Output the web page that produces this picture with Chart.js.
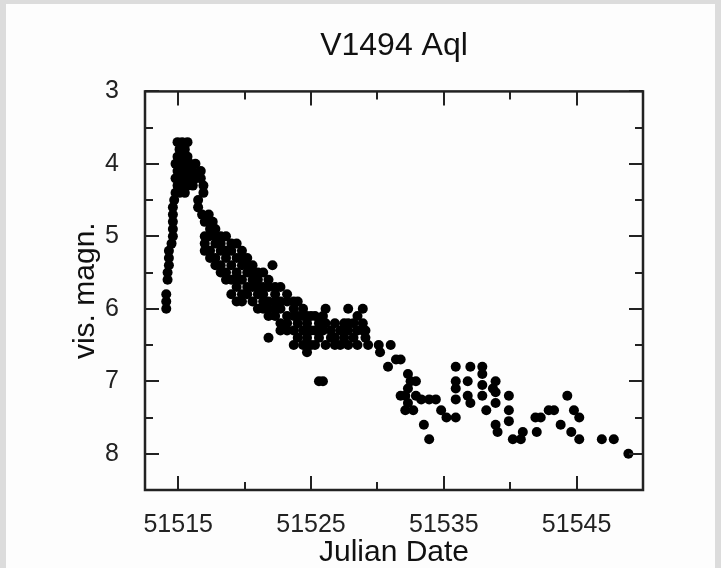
<!DOCTYPE html>
<html>
<head>
<meta charset="utf-8">
<script src="https://cdn.jsdelivr.net/npm/chart.js@4.4.0/dist/chart.umd.min.js"></script>
<style>
  html, body { margin: 0; padding: 0; background: #dcdcdc; }
  #wrap { width: 721px; height: 568px; }
</style>
</head>
<body>
<div id="wrap"><canvas id="lc" width="721" height="568"></canvas></div>
<script>
// V1494 Aql - visual estimates
const jd = [
  51514.1, 51514.1, 51514.1,
  51514.2, 51514.2,
  51514.3, 51514.3, 51514.3,
  51514.5,
  51514.6, 51514.6, 51514.6, 51514.6, 51514.6,
  51514.7,
  51514.8, 51514.8, 51514.8,
  51514.95, 51514.95, 51514.95, 51514.95,
  51515.1, 51515.1, 51515.1, 51515.1,
  51515.3, 51515.3, 51515.3, 51515.3,
  51515.5, 51515.5, 51515.5, 51515.5,
  51515.7, 51515.7, 51515.7, 51515.7,
  51515.9, 51515.9,
  51516.1, 51516.1,
  51516.3, 51516.3,
  51516.5, 51516.5,
  51516.7, 51516.7,
  51516.8,
  51516.9, 51516.9,
  51517.0, 51517.0, 51517.0, 51517.0,
  51517.3, 51517.3,
  51517.4, 51517.4, 51517.4,
  51517.6,
  51517.8, 51517.8, 51517.8, 51517.8, 51517.8,
  51518.2, 51518.2, 51518.2, 51518.2, 51518.2,
  51518.6, 51518.6, 51518.6, 51518.6, 51518.6,
  51519.0, 51519.0, 51519.0, 51519.0, 51519.0,
  51519.4, 51519.4, 51519.4, 51519.4, 51519.4, 51519.4,
  51519.8, 51519.8, 51519.8, 51519.8, 51519.8, 51519.8,
  51520.2, 51520.2, 51520.2, 51520.2, 51520.2,
  51520.6, 51520.6, 51520.6, 51520.6, 51520.6,
  51521.0, 51521.0, 51521.0, 51521.0, 51521.0,
  51521.4, 51521.4, 51521.4, 51521.4, 51521.4,
  51521.8, 51521.8, 51521.8, 51521.8, 51521.8, 51521.8,
  51522.1,
  51522.3, 51522.3, 51522.3, 51522.3, 51522.3,
  51522.7, 51522.7, 51522.7, 51522.7, 51522.7,
  51523.2, 51523.2, 51523.2, 51523.2, 51523.2,
  51523.7, 51523.7, 51523.7, 51523.7, 51523.7,
  51524.0, 51524.0, 51524.0, 51524.0,
  51524.4, 51524.4, 51524.4, 51524.4,
  51524.7, 51524.7, 51524.7, 51524.7,
  51525.0, 51525.0, 51525.0,
  51525.3, 51525.3, 51525.3,
  51525.6, 51525.6, 51525.6,
  51525.9, 51525.9, 51525.9,
  51526.1, 51526.1, 51526.1,
  51526.5, 51526.5,
  51526.8, 51526.8, 51526.8,
  51527.2, 51527.2,
  51527.5, 51527.5,
  51527.8, 51527.8, 51527.8, 51527.8,
  51528.2, 51528.2,
  51528.5, 51528.5, 51528.5,
  51528.9, 51528.9, 51528.9,
  51529.1, 51529.1,
  51529.3,
  51530.1,
  51530.2,
  51530.8,
  51531.0,
  51531.4,
  51531.75, 51531.75,
  51532.1, 51532.1,
  51532.3, 51532.3, 51532.3,
  51532.5,
  51532.7,
  51532.9, 51532.9,
  51533.3,
  51533.5,
  51533.9, 51533.9,
  51534.4,
  51534.8,
  51535.2,
  51535.9, 51535.9, 51535.9, 51535.9, 51535.9,
  51536.8, 51536.8,
  51537.0, 51537.0,
  51537.9, 51537.9, 51537.9, 51537.9,
  51538.2,
  51538.7,
  51538.9, 51538.9, 51538.9, 51538.9,
  51539.05,
  51539.9, 51539.9, 51539.9,
  51540.2,
  51540.8,
  51540.95,
  51541.9,
  51542.0,
  51542.3,
  51542.9,
  51543.3,
  51543.8,
  51544.3,
  51544.6,
  51544.8,
  51545.2, 51545.2,
  51546.9,
  51547.8,
  51548.9
];
const mag = [
  5.8, 5.9, 6.0,
  5.5, 5.6,
  5.2, 5.3, 5.4,
  5.1,
  4.6, 4.7, 4.8, 4.9, 5.0,
  4.5,
  4.0, 4.2, 4.4,
  3.7, 3.9, 4.1, 4.3,
  3.8, 4.0, 4.2, 4.4,
  3.7, 3.9, 4.1, 4.3,
  3.8, 4.0, 4.2, 4.4,
  3.7, 3.9, 4.1, 4.3,
  4.0, 4.2,
  4.1, 4.3,
  4.0, 4.2,
  4.5, 4.6,
  4.1, 4.2,
  4.7,
  4.3, 4.4,
  4.8, 5.0, 5.1, 5.2,
  4.7, 5.0,
  4.9, 5.2, 5.3,
  4.8,
  4.9, 5.0, 5.1, 5.3, 5.4,
  5.0, 5.1, 5.2, 5.4, 5.5,
  5.0, 5.2, 5.3, 5.5, 5.6,
  5.1, 5.2, 5.4, 5.6, 5.8,
  5.1, 5.3, 5.5, 5.6, 5.7, 5.9,
  5.2, 5.3, 5.4, 5.6, 5.8, 5.9,
  5.3, 5.4, 5.5, 5.7, 5.8,
  5.4, 5.5, 5.6, 5.7, 5.9,
  5.5, 5.6, 5.7, 5.8, 6.0,
  5.5, 5.7, 5.8, 5.9, 6.0,
  5.6, 5.7, 5.9, 6.0, 6.1, 6.4,
  5.4,
  5.7, 5.8, 5.9, 6.0, 6.1,
  5.7, 5.9, 6.0, 6.2, 6.3,
  5.8, 5.9, 6.1, 6.2, 6.3,
  5.9, 6.0, 6.1, 6.3, 6.5,
  5.9, 6.1, 6.2, 6.4,
  6.0, 6.1, 6.3, 6.5,
  6.1, 6.2, 6.4, 6.6,
  6.1, 6.3, 6.5,
  6.1, 6.3, 6.5,
  6.2, 6.4, 7.0,
  6.1, 6.3, 7.0,
  6.0, 6.2, 6.5,
  6.3, 6.4,
  6.2, 6.4, 6.5,
  6.3, 6.5,
  6.2, 6.4,
  6.0, 6.2, 6.3, 6.5,
  6.2, 6.4,
  6.1, 6.3, 6.5,
  6.0, 6.2, 6.3,
  6.3, 6.4,
  6.5,
  6.5,
  6.6,
  6.8,
  6.5,
  6.7,
  6.7, 7.2,
  7.2, 7.4,
  6.9, 7.1, 7.3,
  7.0,
  7.4,
  7.0, 7.2,
  7.25,
  7.6,
  7.25, 7.8,
  7.25,
  7.4,
  7.5,
  6.8, 7.0, 7.1, 7.25, 7.5,
  7.0, 7.2,
  6.8, 7.3,
  6.8, 6.9, 7.05, 7.2,
  7.4,
  7.1,
  7.0, 7.15, 7.3, 7.6,
  7.7,
  7.2, 7.4, 7.55,
  7.8,
  7.8,
  7.7,
  7.5,
  7.7,
  7.5,
  7.4,
  7.4,
  7.6,
  7.2,
  7.7,
  7.4,
  7.5, 7.8,
  7.8,
  7.8,
  8.0
];

const xMajor = [51515, 51525, 51535, 51545];
const xMinor = [51520, 51530, 51540];
const yMajor = [3, 4, 5, 6, 7, 8];
const yMinor = [3.5, 4.5, 5.5, 6.5, 7.5];

const points = jd.map((d, i) => ({ x: d, y: mag[i] }));
const FONT = "'Liberation Sans', Arial, Helvetica, sans-serif";

// grey page, white panel, boxed frame with inward ticks on all four sides
const framePlugin = {
  id: 'frame',
  beforeDraw(chart) {
    const c = chart.ctx;
    c.save();
    c.fillStyle = '#dcdcdc';
    c.fillRect(0, 0, chart.width, chart.height);
    c.fillStyle = '#fdfdfd';
    c.fillRect(6, 4, chart.width - 12, chart.height - 4);
    c.restore();
  },
  afterDraw(chart) {
    const c = chart.ctx;
    const a = chart.chartArea;
    const sx = chart.scales.x, sy = chart.scales.y;
    c.save();
    c.strokeStyle = '#222';
    c.lineWidth = 2;
    c.beginPath();
    function xt(vals, len) {
      vals.forEach(v => {
        const px = Math.round(sx.getPixelForValue(v));
        c.moveTo(px, a.bottom); c.lineTo(px, a.bottom - len);
        c.moveTo(px, a.top); c.lineTo(px, a.top + len);
      });
    }
    function yt(vals, len) {
      vals.forEach(v => {
        const py = Math.round(sy.getPixelForValue(v));
        c.moveTo(a.left, py); c.lineTo(a.left + len, py);
        c.moveTo(a.right, py); c.lineTo(a.right - len, py);
      });
    }
    xt(xMajor, 14); xt(xMinor, 8);
    yt(yMajor, 14); yt(yMinor, 8);
    c.stroke();
    c.lineWidth = 2.5;
    c.strokeRect(a.left, a.top, a.right - a.left, a.bottom - a.top);
    c.restore();
  }
};

new Chart(document.getElementById('lc'), {
  type: 'scatter',
  data: {
    datasets: [{
      data: points,
      pointRadius: 5,
      pointHoverRadius: 5,
      pointBackgroundColor: '#000',
      pointBorderWidth: 0
    }]
  },
  options: {
    responsive: false,
    animation: false,
    events: [],
    layout: { padding: { left: 71, right: 78, top: 0, bottom: 0 } },
    plugins: {
      legend: { display: false },
      tooltip: { enabled: false },
      title: {
        display: true,
        fullSize: false,
        text: 'V1494 Aql',
        color: '#111',
        font: { family: FONT, size: 32, weight: 'normal', lineHeight: 1.2 },
        padding: { top: 27, bottom: 26 }
      }
    },
    scales: {
      x: {
        type: 'linear',
        min: 51512.5,
        max: 51550,
        grid: { display: false },
        border: { display: false },
        afterBuildTicks: s => { s.ticks = xMajor.map(v => ({ value: v })); },
        afterFit: s => { s.height = 78; },
        ticks: {
          padding: 12,
          color: '#222',
          autoSkip: false,
          maxRotation: 0,
          font: { family: FONT, size: 25 },
          callback: v => String(v)
        },
        title: {
          display: true,
          text: 'Julian Date',
          color: '#111',
          font: { family: FONT, size: 30, lineHeight: 1 },
          padding: 0
        }
      },
      y: {
        type: 'linear',
        reverse: true,
        min: 3,
        max: 8.5,
        grid: { display: false },
        border: { display: false },
        afterBuildTicks: s => { s.ticks = yMajor.map(v => ({ value: v })); },
        afterFit: s => { s.width = 74; },
        ticks: {
          padding: 18,
          color: '#222',
          autoSkip: false,
          font: { family: FONT, size: 25 },
          callback: v => String(v)
        },
        title: {
          display: true,
          text: 'vis. magn.',
          color: '#111',
          font: { family: FONT, size: 30, lineHeight: 1 },
          padding: 0
        }
      }
    }
  },
  plugins: [framePlugin]
});
</script>
</body>
</html>
